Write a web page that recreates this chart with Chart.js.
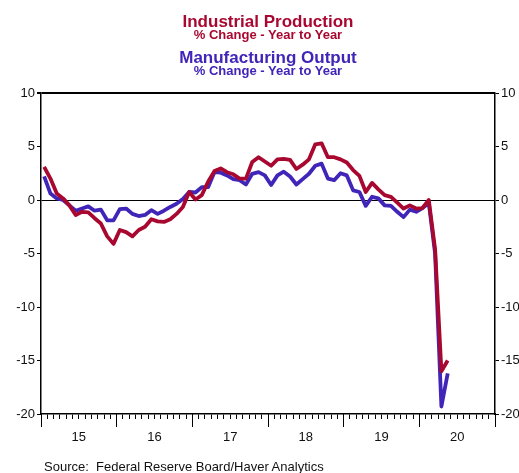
<!DOCTYPE html>
<html>
<head>
<meta charset="utf-8">
<script src="https://cdn.jsdelivr.net/npm/chart.js@4"></script>
<style>
  html, body { margin: 0; padding: 0; background: #fff; overflow: hidden; }
  #wrap { position: relative; width: 519px; height: 473px; font-family: Arial, "Liberation Sans", sans-serif; }
  canvas { position: absolute; left: 0; top: 0; }
  .t { position: absolute; left: 0; width: 536px; text-align: center; font-weight: bold; white-space: nowrap; }
  .big { font-size: 17px; line-height: 17px; }
  .small { font-size: 13px; line-height: 13px; }
  .red { color: #A80830; }
  .blue { color: #4124B8; }
  #source { position: absolute; left: 44px; top: 460px; font-size: 13px; line-height: 13px; color: #111; white-space: pre; }
</style>
</head>
<body>
<div id="wrap">
  <canvas id="chart" width="519" height="473"></canvas>
  <div class="t big red" style="top:13px">Industrial Production</div>
  <div class="t small red" style="top:28px">% Change - Year to Year</div>
  <div class="t big blue" style="top:49px">Manufacturing Output</div>
  <div class="t small blue" style="top:64px">% Change - Year to Year</div>
  <div id="source">Source:  Federal Reserve Board/Haver Analytics</div>
</div>
<script>
// monthly year-over-year % change, Jan 2015 .. May 2020
const yearLabels = ['15', '16', '17', '18', '19', '20'];
const industrial = [
  3.1, 2.0, 0.6, 0.15, -0.5, -1.4, -1.1, -1.15, -1.7, -2.2, -3.4, -4.1,
  -2.8, -3.0, -3.4, -2.8, -2.5, -1.8, -2.0, -2.05, -1.8, -1.3, -0.65, 0.75,
  0.05, 0.45, 1.7, 2.7, 2.95, 2.6, 2.4, 2.0, 2.0, 3.55, 4.0, 3.6,
  3.2, 3.8, 3.85, 3.75, 2.9, 3.3, 3.8, 5.2, 5.3, 4.0, 4.0, 3.8,
  3.5, 2.8, 2.25, 0.75, 1.6, 1.0, 0.45, 0.3, -0.25, -0.8, -0.5, -0.8,
  -0.75, 0.0, -4.6, -16.0, -15.0
];
const manufacturing = [
  2.2, 0.6, 0.15, 0.0, -0.5, -1.0, -0.8, -0.6, -1.0, -0.9, -1.9, -1.9,
  -0.85, -0.8, -1.3, -1.5, -1.4, -0.95, -1.3, -1.0, -0.65, -0.35, 0.1, 0.75,
  0.7, 1.2, 1.2, 2.6, 2.55, 2.3, 1.95, 1.85, 1.45, 2.45, 2.6, 2.3,
  1.4, 2.3, 2.65, 2.2, 1.45, 1.95, 2.45, 3.2, 3.4, 2.0, 1.85, 2.5,
  2.3, 0.9, 0.75, -0.55, 0.3, 0.15, -0.5, -0.55, -1.1, -1.6, -0.9, -1.1,
  -0.75, -0.3, -5.0, -19.3, -16.2
];
const yTicks = { min: -20, max: 10, step: 5 };
const monthsShown = 72;

const toPoints = arr => arr.map((v, i) => ({ x: i + 0.5, y: v }));
const fontSpec = { family: 'Arial, "Liberation Sans", sans-serif', size: 13 };

new Chart(document.getElementById('chart'), {
  type: 'line',
  data: {
    datasets: [
      { label: 'Industrial Production', data: toPoints(industrial), borderColor: '#A80830',
        borderWidth: 3.8, pointRadius: 0, tension: 0, borderJoinStyle: 'round' },
      { label: 'Manufacturing Output', data: toPoints(manufacturing), borderColor: '#4124B8',
        borderWidth: 3.8, pointRadius: 0, tension: 0, borderJoinStyle: 'round' },
    ],
  },
  options: {
    responsive: false, animation: false, devicePixelRatio: 1,
    layout: { padding: { top: 93, left: 0, right: 0, bottom: 0 } },
    plugins: { legend: { display: false }, tooltip: { enabled: false }, title: { display: false } },
    scales: {
      x: {
        type: 'linear', min: 0, max: monthsShown,
        afterFit: s => { s.height = 59; },
        border: { color: '#000', width: 1.5 },
        grid: { drawOnChartArea: false, tickLength: 5, tickColor: '#000', tickWidth: 1 },
        ticks: {
          stepSize: 1, autoSkip: false, maxRotation: 0, padding: 11, color: '#111', font: fontSpec,
          callback: v => (v % 12 === 6 ? yearLabels[(v - 6) / 12] : ''),
        },
      },
      x2: {
        type: 'linear', axis: 'x', min: 0, max: monthsShown, position: { y: yTicks.min },
        border: { display: false },
        grid: { drawOnChartArea: false, tickLength: 13, tickColor: '#000', tickWidth: 1 },
        ticks: { stepSize: 12, display: false },
      },
      y: {
        min: yTicks.min, max: yTicks.max,
        afterFit: s => { s.width = 41; },
        border: { color: '#000', width: 1.5 },
        grid: {
          color: c => (c.tick.value === 0 || c.tick.value === yTicks.max ? '#000' : 'rgba(0,0,0,0)'),
          lineWidth: c => (c.tick.value === yTicks.max ? 2 : 1),
          tickColor: '#000', tickLength: 4,
        },
        ticks: { stepSize: yTicks.step, padding: 2, color: '#111', font: fontSpec },
      },
      y2: {
        position: 'right', min: yTicks.min, max: yTicks.max,
        afterFit: s => { s.width = 24; },
        border: { color: '#000', width: 1.5 },
        grid: { drawOnChartArea: false, tickColor: '#000', tickLength: 4 },
        ticks: { stepSize: yTicks.step, padding: 2, color: '#111', font: fontSpec },
      },
    },
  },
});
</script>
</body>
</html>
